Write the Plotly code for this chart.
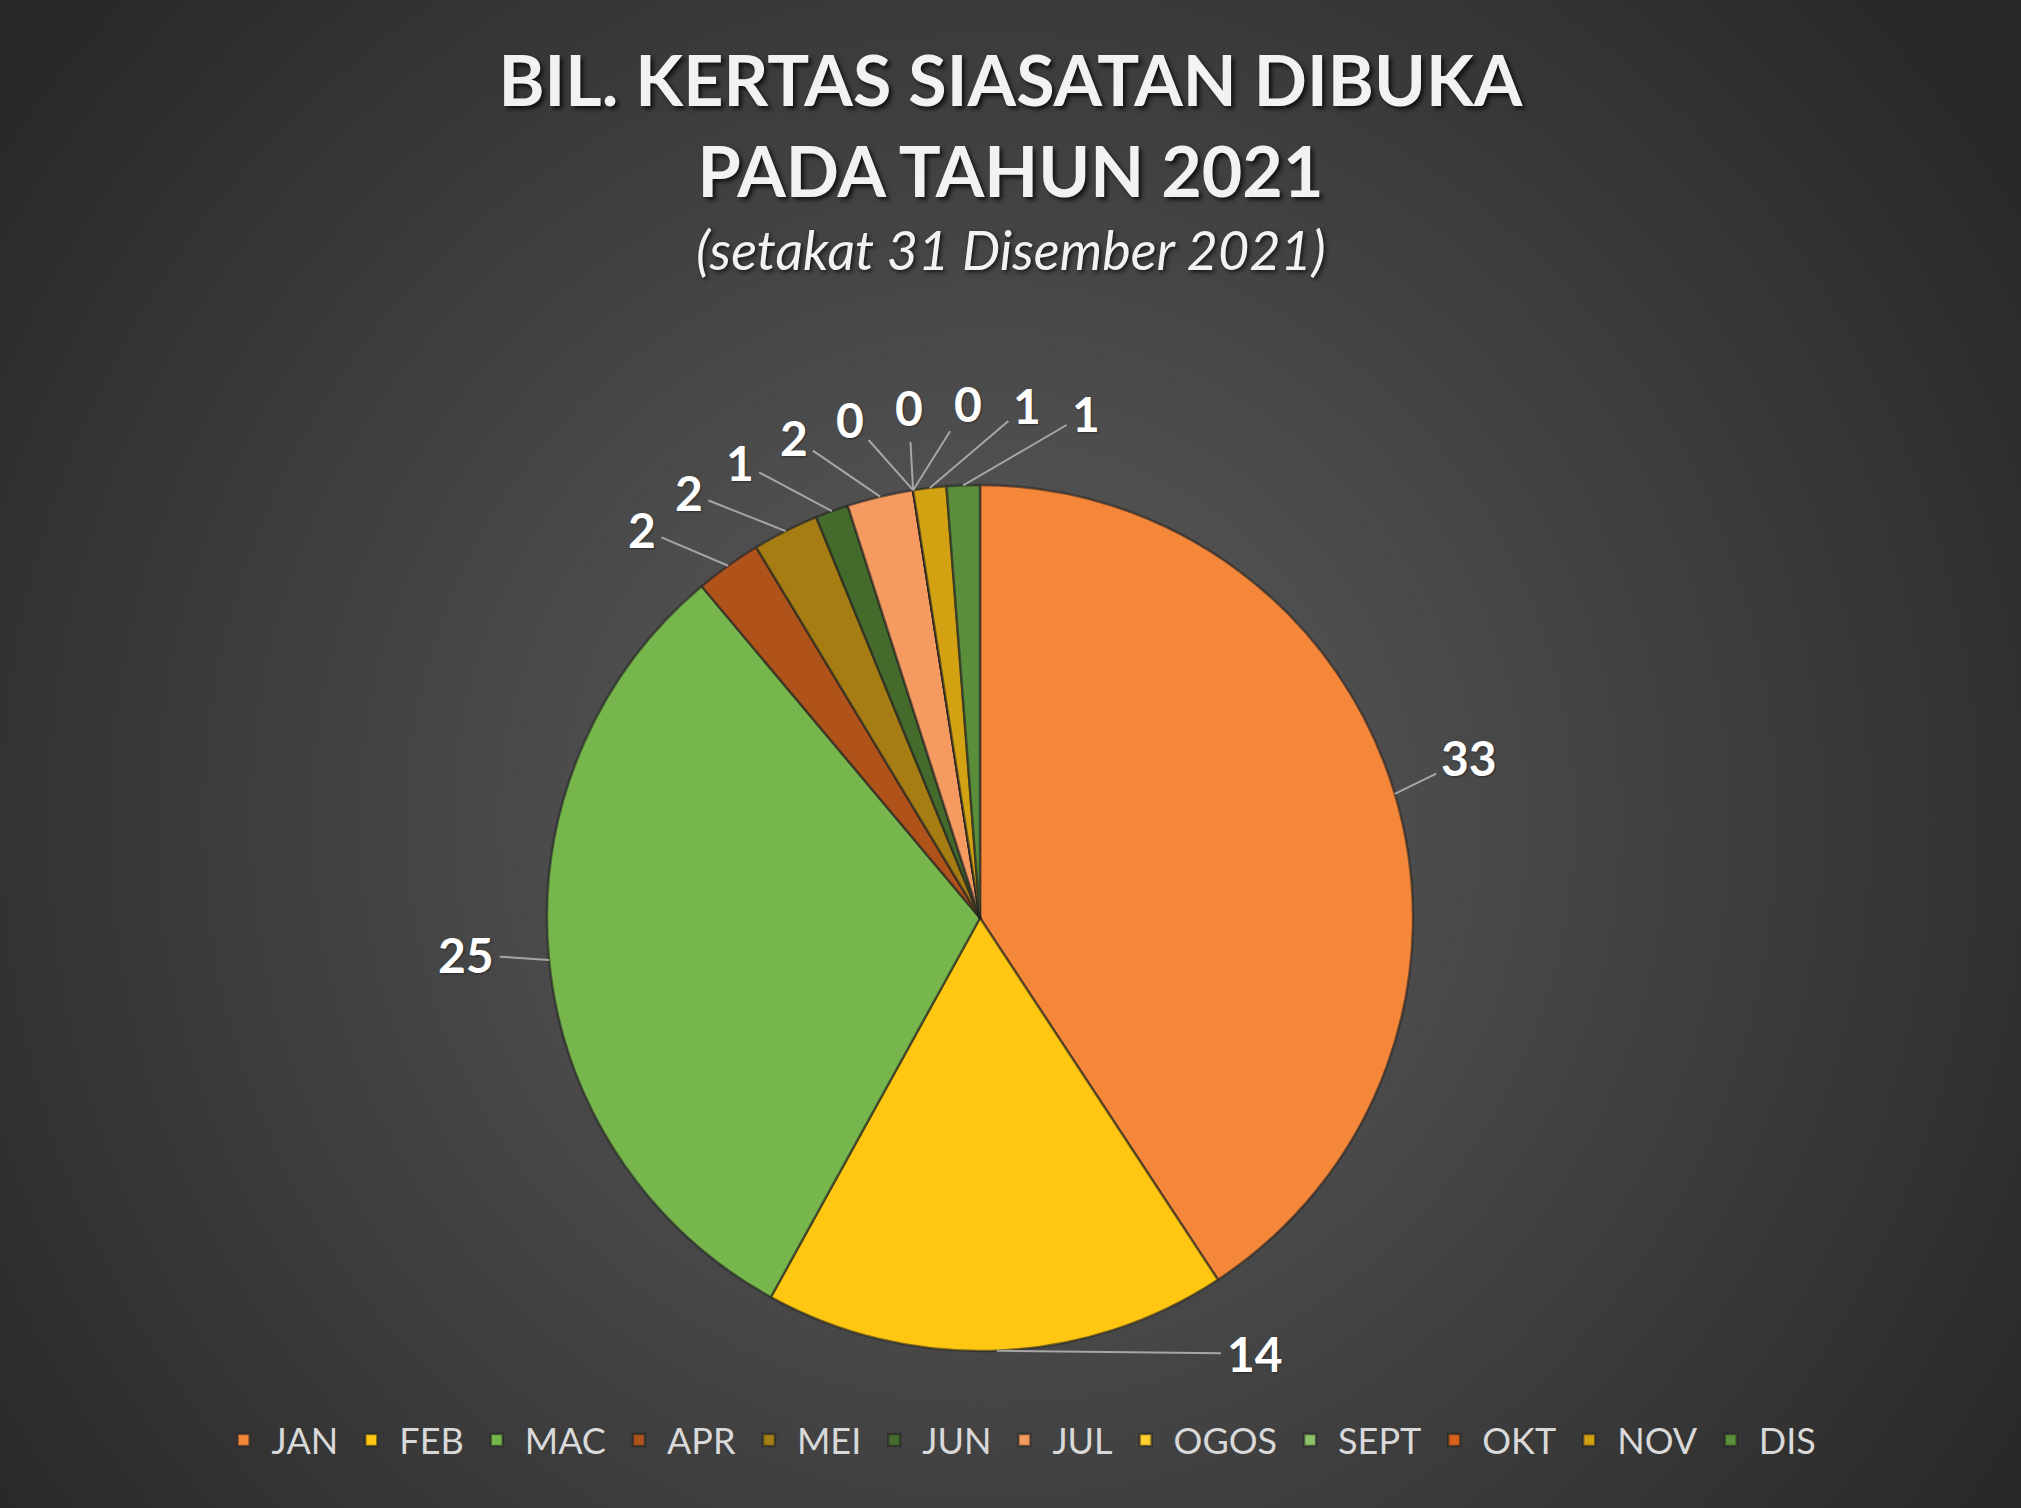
import math
import plotly.graph_objects as go

months = ["JAN", "FEB", "MAC", "APR", "MEI", "JUN", "JUL", "OGOS", "SEPT", "OKT", "NOV", "DIS"]
counts = [33, 14, 25, 2, 2, 1, 2, 0, 0, 0, 1, 1]
colors = ["#F5873A", "#FFC711", "#77B64C", "#B0531B", "#A57D12", "#456B2C",
          "#F59B62", "#FFD02E", "#8BC266", "#D7621A", "#D3A212", "#5A8E3A"]

W, H = 2021, 1508
cx, cy, R = 980, 918, 433
LABEL_R = R + 82          # distance of label centres from the pie centre (px)
MIN_SEP = 6.6             # minimum angular separation between labels (deg)
NUDGE = {"FEB": -30, "JAN": -1.5, "MAC": 1.5}   # extra angular shift for a label (deg), layout only

fig = go.Figure()
fig.add_trace(go.Pie(
    labels=months, values=counts, sort=False, direction="clockwise", rotation=0,
    marker=dict(colors=colors, line=dict(color="rgba(35,35,35,0.6)", width=2.5)),
    textinfo="none",
    domain=dict(x=[(cx - R) / W, (cx + R) / W], y=[1 - (cy + R) / H, 1 - (cy - R) / H]),
    showlegend=True, hoverinfo="label+value",
))

# data-label placement derived from the slice angles
total = sum(counts)
mids = []
acc = 0
for v in counts:
    a = (acc + v / 2) / total * 360.0
    if a > 260:
        a -= 360
    mids.append(a)
    acc += v
order = sorted(range(len(counts)), key=lambda i: mids[i])
lab = {i: mids[i] for i in order}
for _ in range(400):
    for k in range(len(order) - 1):
        i, j = order[k], order[k + 1]
        gap = lab[j] - lab[i]
        if gap < MIN_SEP:
            d = (MIN_SEP - gap) / 2
            lab[i] -= d
            lab[j] += d
annotations = []
for i, m in enumerate(months):
    tip_a = math.radians(mids[i])
    tx, ty = cx + R * math.sin(tip_a), cy - R * math.cos(tip_a)
    la = math.radians(lab[i] + NUDGE.get(m, 0))
    lx, ly = cx + LABEL_R * math.sin(la), cy - LABEL_R * math.cos(la)
    annotations.append(dict(
        x=tx / W, y=1 - ty / H, xref="paper", yref="paper",
        ax=lx - tx, ay=ly - ty, axref="pixel", ayref="pixel",
        text=str(counts[i]), showarrow=True, arrowhead=0, arrowwidth=2,
        arrowcolor="#A6A6A6", standoff=0, startstandoff=4,
        font=dict(family="Lato", size=48, color="#FFFFFF", weight="bold",
                  shadow="1px 1px 2px rgba(0,0,0,0.4)")))

annotations.append(dict(text="(setakat 31 Disember 2021)", xref="paper", yref="paper",
                        x=0.5, y=1 - 249 / H, xanchor="center", yanchor="middle", showarrow=False,
                        font=dict(family="Lato", size=54, color="#F2F2F2", style="italic",
                                  shadow="2px 2px 4px rgba(0,0,0,0.7)")))

# radial background gradient
shapes = []
N = 60
gx, gy = 990, 820
for i in range(N):
    r = 1350 * (1 - i / N)
    if r < 300:
        v = 82 + (300 - r) / 300 * 5
    else:
        v = 82 - (r - 300) * 40 / 900
    v = int(max(40, min(90, v)))
    col = f"rgb({v},{v},{v})"
    shapes.append(dict(type="circle", xref="paper", yref="paper", layer="below",
                       x0=(gx - r) / W, x1=(gx + r) / W, y0=1 - (gy + r) / H, y1=1 - (gy - r) / H,
                       fillcolor=col, line=dict(width=0)))

fig.update_layout(
    width=W, height=H, margin=dict(l=0, r=0, t=0, b=0),
    paper_bgcolor="#2a2a2a", plot_bgcolor="#2a2a2a",
    shapes=shapes, annotations=annotations,
    title=dict(text="BIL. KERTAS SIASATAN DIBUKA<br>PADA TAHUN 2021", x=0.5, xanchor="center",
               y=1 - 106 / H, yanchor="middle",
               font=dict(family="Lato", size=70, color="#F2F2F2", weight="bold",
                         shadow="3px 3px 4px rgba(0,0,0,0.7)")),
    legend=dict(orientation="h", x=0.504, xanchor="center", y=1 - 1440 / H, yanchor="middle",
                font=dict(family="Lato", size=36, color="#D9D9D9"), bgcolor="rgba(0,0,0,0)",
                itemwidth=46, traceorder="normal"),
)

fig.write_html("out.html")
